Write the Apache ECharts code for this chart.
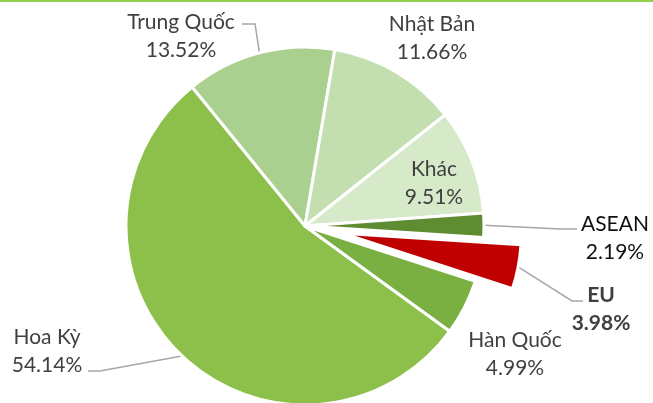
<!DOCTYPE html>
<html>
<head>
<meta charset="utf-8">
<script src="https://cdn.jsdelivr.net/npm/echarts@6/dist/echarts.min.js"></script>
<style>
html, body { margin: 0; padding: 0; background: #fff; }
#topBar { position: absolute; left: 0; top: 0; width: 653px; height: 2px; background: #92D050; }
#pieChart { width: 653px; height: 403px; }
</style>
</head>
<body>
<div id="topBar"></div>
<div id="pieChart"></div>
<script>
// data
const names = ['Hoa Kỳ', 'Trung Quốc', 'Nhật Bản', 'Khác', 'ASEAN', 'EU', 'Hàn Quốc'];
const shares = [54.14, 13.52, 11.66, 9.51, 2.19, 3.98, 4.99];
const colors = ['#8CC04B', '#A9D08E', '#C3DFB0', '#D6E9C9', '#5E8C31', '#C00000', '#7AB041'];
const pulledOut = 'EU';

// where each label sits (center of the text block) and the bend/end of its leader line
const labelPlace = [
    { x: 47, y: 351, line: [[100, 371], [88, 371]] },
    { x: 181, y: 36, line: [[255, 24], [242, 24]] },
    { x: 432, y: 38 },
    { x: 434, y: 183 },
    { x: 615, y: 238, line: [[560, 229], [577, 229]] },
    { x: 601, y: 309, line: [[572, 301], [583, 301]] },
    { x: 515, y: 354 }
];

const cx = 305, cy = 226, startAngle = -36, explode = 38;

// shift of the pulled-out slice along its middle angle
let total = shares.reduce((a, b) => a + b, 0);
let pIdx = names.indexOf(pulledOut);
let before = shares.slice(0, pIdx).reduce((a, b) => a + b, 0);
let midRad = (startAngle - 360 * (before + shares[pIdx] / 2) / total) * Math.PI / 180;
let offX = explode * Math.cos(midRad), offY = -explode * Math.sin(midRad);

let chart = echarts.init(document.getElementById('pieChart'));

function makeData(onlyPulled) {
    return names.map(function (n, i) {
        let visible = onlyPulled ? n === pulledOut : n !== pulledOut;
        let item = { name: n, value: shares[i] };
        if (!visible) {
            item.itemStyle = { color: 'transparent', borderWidth: 0 };
            item.label = { show: false };
            item.labelLine = { show: false };
            return item;
        }
        item.itemStyle = { color: colors[i] };
        if (n === 'Khác') {
            item.label = { position: 'inside' };
        }
        if (n === 'Nhật Bản' || n === 'Hàn Quốc') {
            item.labelLine = { show: false };
        }
        return item;
    });
}

function pieSeries(center, data) {
    return {
        type: 'pie',
        center: center,
        radius: 179,
        startAngle: startAngle,
        clockwise: true,
        avoidLabelOverlap: false,
        silent: true,
        itemStyle: {
            borderColor: '#fff',
            borderWidth: 3
        },
        label: {
            show: true,
            position: 'outside',
            formatter: function (p) {
                let key = p.name === 'ASEAN' ? 'a' : (p.name === 'EU' ? 'e' : 'n');
                return '{' + key + '|' + p.name + '}\n{' + key + '|' + p.value.toFixed(2) + '%}';
            },
            rich: {
                n: { fontFamily: 'Lato', fontSize: 21, color: '#404040', lineHeight: 28 },
                a: { fontFamily: 'Lato', fontSize: 21, color: '#111', lineHeight: 28 },
                e: { fontFamily: 'Lato', fontSize: 21, color: '#404040', fontWeight: 'bold', lineHeight: 28 }
            }
        },
        labelLine: {
            show: true,
            lineStyle: { color: '#A6A6A6', width: 1.5 }
        },
        labelLayout: function (params) {
            let pos = labelPlace[params.dataIndex];
            let out = { x: pos.x, y: pos.y, align: 'center', verticalAlign: 'middle' };
            if (pos.line && params.labelLinePoints) {
                out.labelLinePoints = [params.labelLinePoints[0], pos.line[0], pos.line[1]];
            }
            return out;
        },
        emphasis: { disabled: true },
        data: data
    };
}

chart.setOption({
    animation: false,
    textStyle: { fontFamily: 'Lato' },
    series: [
        pieSeries([cx, cy], makeData(false)),
        pieSeries([cx + offX, cy + offY], makeData(true))
    ]
});
</script>
</body>
</html>
